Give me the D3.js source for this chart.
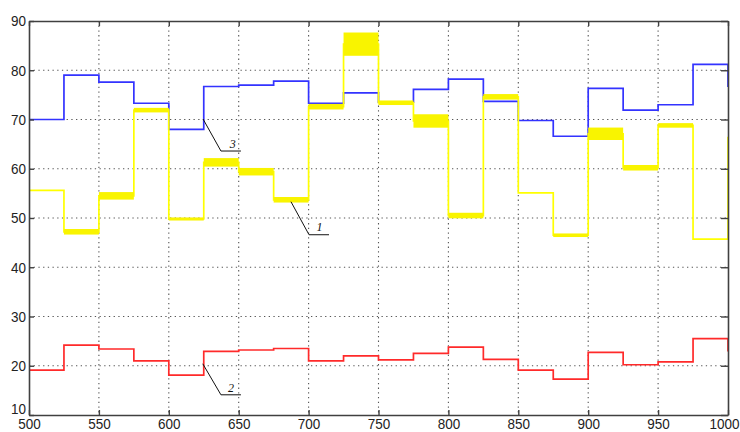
<!DOCTYPE html>
<html>
<head>
<meta charset="utf-8">
<script src="https://cdn.jsdelivr.net/npm/d3@7"></script>
<style>
  html, body { margin: 0; padding: 0; background: #fff; }
  svg { display: block; }
</style>
</head>
<body>
<div id="chart"></div>
<script>
// ---- data ----
// segment start positions (each segment is 25 units wide); last entry = value just after 1000
const xStarts = [500,525,550,575,600,625,650,675,700,725,750,775,800,825,850,875,900,925,950,975,1000];
const blueValues   = [70.0,79.0,77.6,73.3,68.0,76.7,77.0,77.8,73.3,75.4,73.5,76.1,78.2,73.7,69.8,66.6,76.3,71.9,73.0,81.2,76.6];
const yellowValues = [55.6,47.2,54.5,71.9,49.8,61.3,59.4,53.7,72.6,85.3,73.4,69.7,50.5,74.6,55.1,46.5,67.1,60.2,68.8,45.7,66.5];
const yellowNoise  = [0.0,0.4,0.6,0.3,0.15,0.7,0.6,0.4,0.4,2.2,0.3,1.2,0.4,0.4,0.0,0.2,1.1,0.4,0.3,0.0,0.0];
const redValues    = [19.1,24.2,23.4,21.0,18.1,22.9,23.2,23.5,21.0,22.0,21.2,22.5,23.8,21.3,19.1,17.3,22.7,20.2,20.8,25.5,22.9];
const xTicks = [500,550,600,650,700,750,800,850,900,950,1000];
const yTicks = [10,20,30,40,50,60,70,80,90];
// annotation leaders, in data coordinates
const annotations = [
  {label:"3", ax:624.5, ay:70.1, bx:637.3, by:63.6, ex:651.6, tx:643.6, ty:64.3},
  {label:"1", ax:687.4, ay:53.3, bx:700.3, by:46.6, ex:714.6, tx:705.6, ty:47.3},
  {label:"2", ax:624.3, ay:20.4, bx:637.3, by:14.1, ex:651.6, tx:642.3, ty:14.7}
];

// ---- layout ----
const W = 740, H = 432;
const margin = {left: 29, right: 12, top: 21, bottom: 17};
const x = d3.scaleLinear().domain([500, 1000]).range([margin.left, W - margin.right]);
const y = d3.scaleLinear().domain([10, 90]).range([H - margin.bottom, margin.top]);

const svg = d3.select("#chart").append("svg").attr("width", W).attr("height", H);

// grid
const grid = svg.append("g").attr("stroke", "#555").attr("stroke-width", 1.1)
  .attr("stroke-dasharray", "1.3,3.4");
grid.selectAll(".gv").data(xTicks.slice(1, -1)).join("line")
  .attr("x1", d => x(d)).attr("x2", d => x(d))
  .attr("y1", y(90)).attr("y2", y(10));
grid.selectAll(".gh").data(yTicks.slice(1, -1)).join("line")
  .attr("y1", d => y(d)).attr("y2", d => y(d))
  .attr("x1", x(500)).attr("x2", x(1000));

// series
const pts = vals => xStarts.map((xs, i) => ({x: xs, v: vals[i]}));
const line = d3.line().x(d => x(d.x)).y(d => y(d.v)).curve(d3.curveStepAfter);

const plot = svg.append("g");
plot.append("path").datum(pts(blueValues))
  .attr("fill", "none").attr("stroke", "#3333ff").attr("stroke-width", 1.7).attr("d", line);

plot.append("path").datum(pts(yellowValues))
  .attr("fill", "none").attr("stroke", "#ffff00").attr("stroke-width", 1.7).attr("d", line);
// yellow noise bands
plot.selectAll(".band").data(xStarts.slice(0, -1).map((xs, i) => ({x0: xs, x1: xStarts[i+1], v: yellowValues[i], n: yellowNoise[i]})).filter(d => d.n > 0))
  .join("rect")
  .attr("x", d => x(d.x0)).attr("width", d => x(d.x1) - x(d.x0))
  .attr("y", d => y(d.v + d.n) - 0.8).attr("height", d => y(d.v - d.n) - y(d.v + d.n) + 1.6)
  .attr("fill", "#f9f400");

plot.append("path").datum(pts(redValues))
  .attr("fill", "none").attr("stroke", "#ff2a2a").attr("stroke-width", 1.7).attr("d", line);

// axes
const axisColor = "#404040";
const font = "'Liberation Sans', Arial, sans-serif";
function styleAxis(g) {
  g.select(".domain").attr("stroke", axisColor).attr("stroke-width", 1.6);
  g.selectAll(".tick line").attr("stroke", axisColor).attr("stroke-width", 1.4);
  g.selectAll("text").attr("fill", "#222").style("font-family", font).style("font-size", "13.5px");
}
svg.append("g").attr("transform", `translate(${x(500)},0)`)
  .call(d3.axisLeft(y).tickValues(yTicks).tickSizeInner(-5).tickSizeOuter(0).tickPadding(3))
  .call(styleAxis)
  .call(g => g.selectAll("text").attr("transform", "scale(1,1.15)"))
  .call(g => g.selectAll(".tick").filter(d => d === 10).select("text").attr("dy", "-0.12em"));
svg.append("g").attr("transform", `translate(0,${y(10)})`)
  .call(d3.axisBottom(x).tickValues(xTicks).tickFormat(d3.format("d")).tickSizeInner(-5).tickSizeOuter(0).tickPadding(3))
  .call(styleAxis)
  .call(g => g.selectAll("text").style("font-size", "13.5px").attr("transform", "scale(1,1.12)"))
  .call(g => g.selectAll(".tick").filter(d => d === 1000).select("text").attr("text-anchor", "end").attr("x", W - x(1000) - 1));
svg.append("g").attr("transform", `translate(0,${y(90)})`)
  .call(d3.axisTop(x).tickValues(xTicks).tickFormat("").tickSizeInner(-5).tickSizeOuter(0))
  .call(styleAxis);
svg.append("g").attr("transform", `translate(${x(1000)},0)`)
  .call(d3.axisRight(y).tickValues(yTicks).tickFormat("").tickSizeInner(-7).tickSizeOuter(0))
  .call(styleAxis);

// annotations
const ann = svg.append("g");
annotations.forEach(a => {
  ann.append("polyline")
    .attr("points", [[x(a.ax), y(a.ay)], [x(a.bx), y(a.by)], [x(a.ex), y(a.by)]].map(p => p.join(",")).join(" "))
    .attr("fill", "none").attr("stroke", "#111").attr("stroke-width", 1);
  ann.append("text").attr("x", x(a.tx)).attr("y", y(a.ty))
    .style("font-family", "'Liberation Serif', 'Times New Roman', serif")
    .style("font-style", "italic").style("font-size", "12px").attr("fill", "#111")
    .text(a.label);
});
</script>
</body>
</html>
